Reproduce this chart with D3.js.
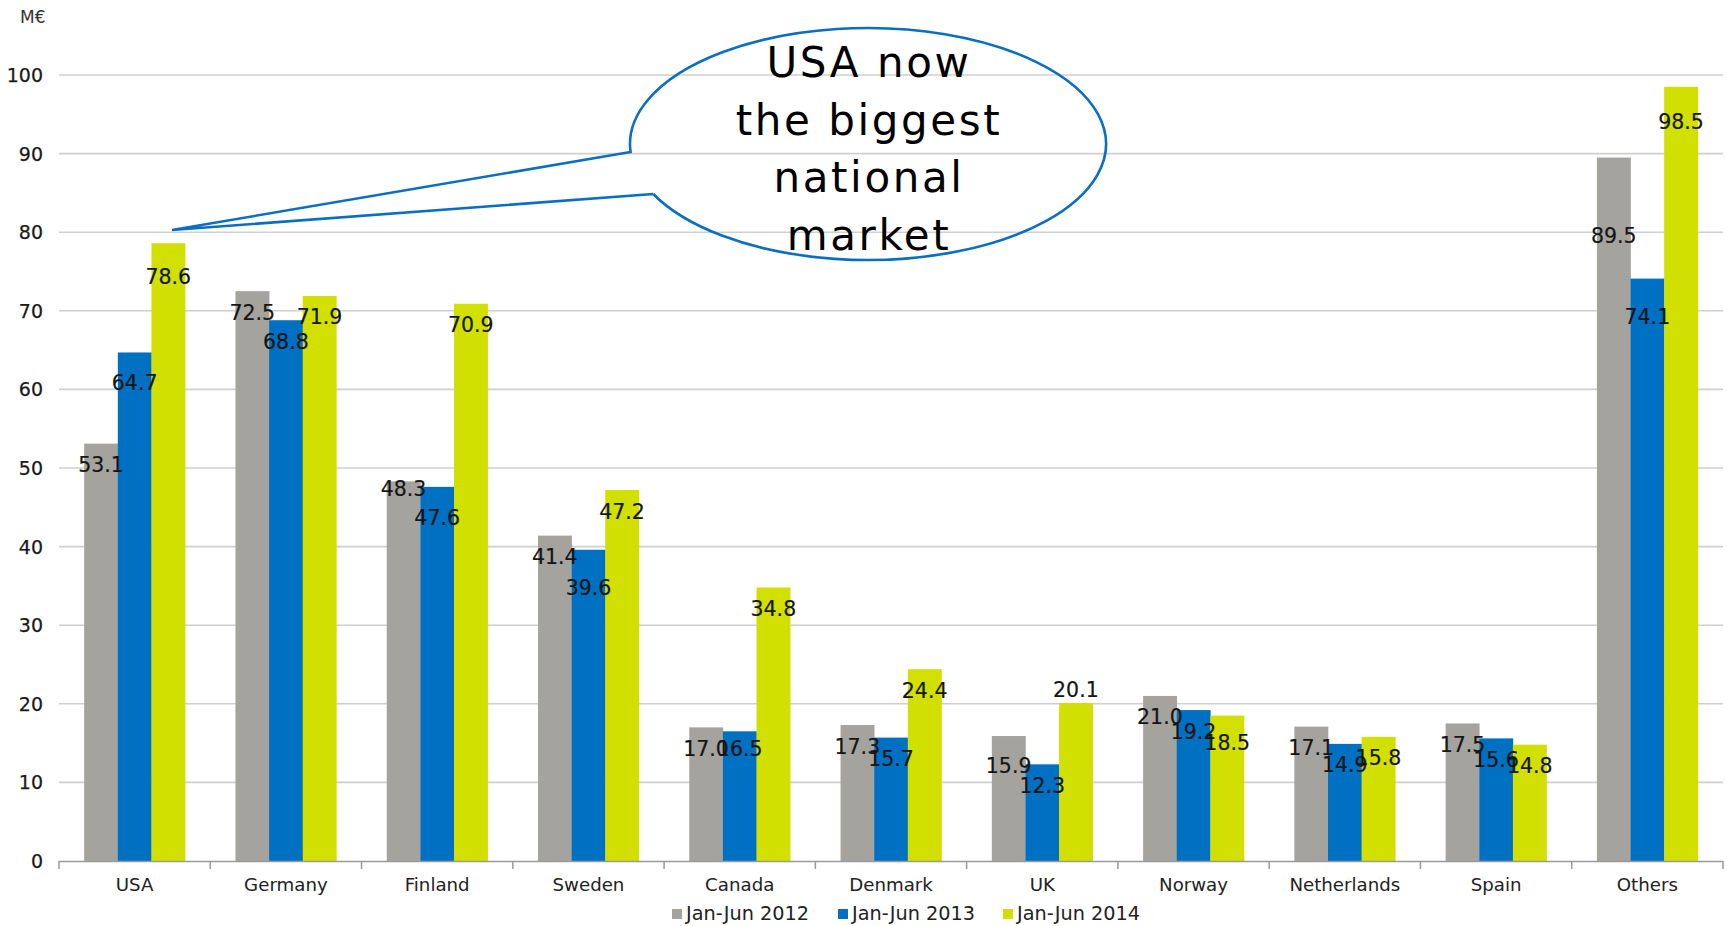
<!DOCTYPE html>
<html>
<head>
<meta charset="UTF-8">
<script src="https://d3js.org/d3.v7.min.js"></script>
<style>
  * { margin: 0; padding: 0; }
  body { background: #fff; width: 1727px; height: 926px; overflow: hidden; font-family: 'DejaVu Sans', Verdana, sans-serif; }
  svg { display: block; }
</style>
</head>
<body>
<svg id="chart"></svg>
<script>
// data
const categories = ['USA', 'Germany', 'Finland', 'Sweden', 'Canada', 'Denmark', 'UK', 'Norway', 'Netherlands', 'Spain', 'Others'];
const seriesNames = ['Jan-Jun 2012', 'Jan-Jun 2013', 'Jan-Jun 2014'];
const values2012 = [53.1, 72.5, 48.3, 41.4, 17.0, 17.3, 15.9, 21.0, 17.1, 17.5, 89.5];
const values2013 = [64.7, 68.8, 47.6, 39.6, 16.5, 15.7, 12.3, 19.2, 14.9, 15.6, 74.1];
const values2014 = [78.6, 71.9, 70.9, 47.2, 34.8, 24.4, 20.1, 18.5, 15.8, 14.8, 98.5];
const yTicks = [0, 10, 20, 30, 40, 50, 60, 70, 80, 90, 100];
const calloutLines = ['USA now', 'the biggest', 'national', 'market'];

const COLORS = ['#a4a39e', '#0070c2', '#d1e000'];

// label placement in the original is hand-tuned; default is 21px under the bar top
const LABEL_DY = 21;
const LABEL_NUDGE = {
  'USA|1': 30, 'USA|2': 33,
  'Finland|0': 7, 'Finland|1': 31,
  'Sweden|1': 38,
  'Canada|1': 17,
  'UK|0': 29, 'UK|2': -14,
  'Norway|2': 27,
  'Others|0': 78, 'Others|1': 38, 'Others|2': 35,
};

(function() {
  const W = 1727, H = 926;
  const svg = d3.select('#chart').attr('width', W).attr('height', H);

  const x0 = d3.scaleBand().domain(categories).range([59, 1723]).padding(0);
  const groupW = x0.bandwidth() * 0.667;
  const x1 = d3.scaleBand().domain(d3.range(3)).range([0, groupW]).padding(0);
  const y = d3.scaleLinear().domain([0, 100]).range([861, 75]);

  // gridlines
  svg.append('g').selectAll('line')
    .data(yTicks.filter(t => t > 0))
    .join('line')
    .attr('x1', 59).attr('x2', 1723)
    .attr('y1', d => y(d)).attr('y2', d => y(d))
    .attr('stroke', '#cfcfcf').attr('stroke-width', 1.6);

  // y labels
  svg.append('g').selectAll('text')
    .data(yTicks)
    .join('text')
    .attr('x', 43).attr('y', d => y(d) + 7)
    .attr('text-anchor', 'end')
    .attr('font-size', 19).attr('fill', '#1a1a1a')
    .attr('stroke', '#1a1a1a').attr('stroke-width', 0.25)
    .text(d => d);

  svg.append('text')
    .attr('x', 20).attr('y', 23)
    .attr('font-size', 17).attr('fill', '#333')
    .text('M€');

  // bars
  const series = [values2012, values2013, values2014];
  const rows = [];
  categories.forEach((c, i) => {
    series.forEach((vals, s) => rows.push({ cat: c, s, v: vals[i] }));
  });
  const bx = d => x0(d.cat) + (x0.bandwidth() - groupW) / 2 + x1(d.s);

  svg.append('g').selectAll('rect')
    .data(rows)
    .join('rect')
    .attr('x', bx)
    .attr('y', d => y(d.v))
    .attr('width', x1.bandwidth() + 0.3)
    .attr('height', d => y(0) - y(d.v))
    .attr('fill', d => COLORS[d.s]);

  // x axis
  const axis = svg.append('g');
  axis.append('line')
    .attr('x1', 59).attr('x2', 1723).attr('y1', 861.5).attr('y2', 861.5)
    .attr('stroke', '#9a9a9a').attr('stroke-width', 1.5);
  axis.selectAll('line.tick')
    .data(categories.concat(['__end']))
    .join('line')
    .attr('class', 'tick')
    .attr('x1', (d, i) => i < categories.length ? x0(d) : x0.range()[1])
    .attr('x2', (d, i) => i < categories.length ? x0(d) : x0.range()[1])
    .attr('y1', 861).attr('y2', 869)
    .attr('stroke', '#9a9a9a').attr('stroke-width', 1.5);
  axis.selectAll('text')
    .data(categories)
    .join('text')
    .attr('x', d => x0(d) + x0.bandwidth() / 2)
    .attr('y', 891)
    .attr('text-anchor', 'middle')
    .attr('font-size', 18.2).attr('fill', '#222')
    .text(d => d);

  // value labels
  svg.append('g').selectAll('text')
    .data(rows)
    .join('text')
    .attr('x', d => bx(d) + x1.bandwidth() / 2)
    .attr('y', d => y(d.v) + (LABEL_NUDGE[d.cat + '|' + d.s] ?? LABEL_DY) + 7.5)
    .attr('text-anchor', 'middle')
    .attr('font-size', 20.5).attr('fill', '#151515')
    .attr('stroke', '#151515').attr('stroke-width', 0.2)
    .text(d => d.v.toFixed(1));

  // legend
  const legend = svg.append('g');
  const legendX = [672, 838, 1003];
  seriesNames.forEach((name, i) => {
    legend.append('rect')
      .attr('x', legendX[i]).attr('y', 909)
      .attr('width', 10).attr('height', 10)
      .attr('fill', COLORS[i]);
    legend.append('text')
      .attr('x', legendX[i] + 14).attr('y', 920)
      .attr('font-size', 19.3).attr('fill', '#222')
      .text(name);
  });

  // callout bubble
  const cx = 868, cy = 144, rx = 238, ry = 116;
  const tip = [172, 230];
  const ptAt = dy => [cx - rx * Math.sqrt(1 - (dy / ry) ** 2), cy + dy];
  const A = ptAt(8), B = ptAt(50);
  svg.append('path')
    .attr('d', 'M' + B + 'L' + tip + 'L' + A + 'A' + rx + ',' + ry + ' 0 1 1 ' + B)
    .attr('fill', 'none')
    .attr('stroke', '#0a6fc2').attr('stroke-width', 2.6)
    .attr('stroke-linejoin', 'miter');

  svg.append('g').selectAll('text')
    .data(calloutLines)
    .join('text')
    .attr('x', cx + 1)
    .attr('y', (d, i) => 77 + i * 57.7)
    .attr('text-anchor', 'middle')
    .attr('font-size', 42).attr('letter-spacing', 2.6).attr('fill', '#000')
    .text(d => d);
})();
</script>
</body>
</html>
